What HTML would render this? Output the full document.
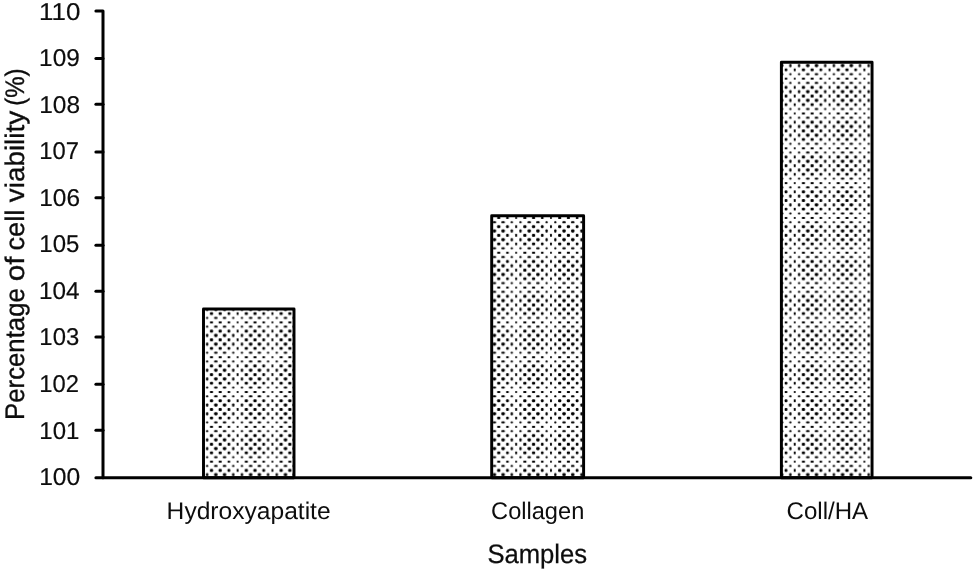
<!DOCTYPE html>
<html lang="en">
<head>
<meta charset="utf-8">
<title>Cell viability chart</title>
<style>
html,body{margin:0;padding:0;background:#fff;}
body{width:975px;height:571px;overflow:hidden;}
svg{display:block;}
text{font-family:"Liberation Sans",Arial,sans-serif;fill:#0d0d0d;text-rendering:geometricPrecision;}
</style>
</head>
<body>
<svg width="975" height="571" viewBox="0 0 975 571">
<defs>
<pattern id="dots" patternUnits="userSpaceOnUse" x="17.804" y="32.904" width="34.820" height="34.820">
<rect width="34.820" height="34.820" fill="#fff"/>
<g fill="#000">
<rect x="0.826" y="0.826" width="2.700" height="2.700" rx="0.945"/>
<rect x="9.931" y="0.826" width="1.900" height="2.700" rx="0.665"/>
<rect x="17.986" y="0.826" width="3.200" height="2.700" rx="0.945"/>
<rect x="26.691" y="0.826" width="3.200" height="2.700" rx="0.945"/>
<rect x="5.429" y="5.529" width="2.200" height="2.000" rx="0.700"/>
<rect x="14.134" y="5.529" width="2.200" height="2.000" rx="0.700"/>
<rect x="22.239" y="5.529" width="3.400" height="2.000" rx="0.700"/>
<rect x="30.944" y="5.529" width="3.400" height="2.000" rx="0.700"/>
<rect x="0.826" y="9.881" width="2.700" height="2.000" rx="0.700"/>
<rect x="9.931" y="9.881" width="1.900" height="2.000" rx="0.665"/>
<rect x="17.986" y="9.881" width="3.200" height="2.000" rx="0.700"/>
<rect x="26.691" y="9.881" width="3.200" height="2.000" rx="0.700"/>
<rect x="5.429" y="14.184" width="2.200" height="2.100" rx="0.735"/>
<rect x="14.134" y="14.184" width="2.200" height="2.100" rx="0.735"/>
<rect x="22.239" y="14.184" width="3.400" height="2.100" rx="0.735"/>
<rect x="30.944" y="14.184" width="3.400" height="2.100" rx="0.735"/>
<rect x="0.826" y="18.086" width="2.700" height="3.000" rx="0.945"/>
<rect x="9.931" y="18.086" width="1.900" height="3.000" rx="0.665"/>
<rect x="17.986" y="18.086" width="3.200" height="3.000" rx="1.050"/>
<rect x="26.691" y="18.086" width="3.200" height="3.000" rx="1.050"/>
<rect x="5.429" y="22.339" width="2.200" height="3.200" rx="0.770"/>
<rect x="14.134" y="22.339" width="2.200" height="3.200" rx="0.770"/>
<rect x="22.239" y="22.339" width="3.400" height="3.200" rx="1.120"/>
<rect x="30.944" y="22.339" width="3.400" height="3.200" rx="1.120"/>
<rect x="0.826" y="26.791" width="2.700" height="3.000" rx="0.945"/>
<rect x="9.931" y="26.791" width="1.900" height="3.000" rx="0.665"/>
<rect x="17.986" y="26.791" width="3.200" height="3.000" rx="1.050"/>
<rect x="26.691" y="26.791" width="3.200" height="3.000" rx="1.050"/>
<rect x="5.429" y="31.044" width="2.200" height="3.200" rx="0.770"/>
<rect x="14.134" y="31.044" width="2.200" height="3.200" rx="0.770"/>
<rect x="22.239" y="31.044" width="3.400" height="3.200" rx="1.120"/>
<rect x="30.944" y="31.044" width="3.400" height="3.200" rx="1.120"/>
</g>
</pattern>
</defs>
<rect width="975" height="571" fill="#fff"/>
<g fill="url(#dots)" stroke="#000" stroke-width="2.95" stroke-linejoin="round">
<rect x="203.50" y="309.00" width="90.50" height="168.75"/>
<rect x="491.70" y="215.70" width="91.90" height="262.05"/>
<rect x="781.40" y="62.30" width="90.65" height="415.45"/>
</g>
<g stroke="#000" stroke-width="3.0" stroke-linecap="round" stroke-linejoin="round" fill="none">
<line x1="95.9" y1="430.20" x2="103.0" y2="430.20"/>
<line x1="95.9" y1="384.20" x2="103.0" y2="384.20"/>
<line x1="95.9" y1="337.00" x2="103.0" y2="337.00"/>
<line x1="95.9" y1="291.20" x2="103.0" y2="291.20"/>
<line x1="95.9" y1="245.20" x2="103.0" y2="245.20"/>
<line x1="95.9" y1="197.80" x2="103.0" y2="197.80"/>
<line x1="95.9" y1="151.90" x2="103.0" y2="151.90"/>
<line x1="95.9" y1="104.20" x2="103.0" y2="104.20"/>
<line x1="95.9" y1="58.40" x2="103.0" y2="58.40"/>
<polyline points="95.9,11.0 103.0,11.0 103.0,477.75"/>
<line x1="95.9" y1="477.75" x2="970.8" y2="477.75"/>
</g>
<g>
<text x="39.17" y="484.7" font-size="24.3" stroke="#0d0d0d" stroke-width="0.2" textLength="41.05" lengthAdjust="spacingAndGlyphs">100</text>
<text x="39.35" y="438.6" font-size="24.3" stroke="#0d0d0d" stroke-width="0.2" textLength="39.99" lengthAdjust="spacingAndGlyphs">101</text>
<text x="39.35" y="391.6" font-size="24.3" stroke="#0d0d0d" stroke-width="0.2" textLength="39.69" lengthAdjust="spacingAndGlyphs">102</text>
<text x="39.36" y="345.4" font-size="24.3" stroke="#0d0d0d" stroke-width="0.2" textLength="39.85" lengthAdjust="spacingAndGlyphs">103</text>
<text x="39.10" y="299.4" font-size="24.3" stroke="#0d0d0d" stroke-width="0.2" textLength="40.52" lengthAdjust="spacingAndGlyphs">104</text>
<text x="39.33" y="252.0" font-size="24.3" stroke="#0d0d0d" stroke-width="0.2" textLength="39.98" lengthAdjust="spacingAndGlyphs">105</text>
<text x="39.23" y="206.2" font-size="24.3" stroke="#0d0d0d" stroke-width="0.2" textLength="40.80" lengthAdjust="spacingAndGlyphs">106</text>
<text x="39.35" y="158.9" font-size="24.3" stroke="#0d0d0d" stroke-width="0.2" textLength="39.69" lengthAdjust="spacingAndGlyphs">107</text>
<text x="39.23" y="112.7" font-size="24.3" stroke="#0d0d0d" stroke-width="0.2" textLength="40.80" lengthAdjust="spacingAndGlyphs">108</text>
<text x="39.11" y="65.5" font-size="24.3" stroke="#0d0d0d" stroke-width="0.2" textLength="40.64" lengthAdjust="spacingAndGlyphs">109</text>
<text x="39.07" y="19.85" font-size="24.3" stroke="#0d0d0d" stroke-width="0.2" textLength="41.28" lengthAdjust="spacingAndGlyphs">110</text>
<text x="166.64" y="519.4" font-size="24.0" textLength="163.99" lengthAdjust="spacingAndGlyphs">Hydroxyapatite</text>
<text x="491.08" y="519.4" font-size="24.0" textLength="93.18" lengthAdjust="spacingAndGlyphs">Collagen</text>
<text x="786.53" y="519.4" font-size="24.0" textLength="81.58" lengthAdjust="spacingAndGlyphs">Coll/HA</text>
<text x="487.40" y="562.7" font-size="26.6" stroke="#0d0d0d" stroke-width="0.25" textLength="99.76" lengthAdjust="spacingAndGlyphs">Samples</text>
<text transform="translate(23.9 419.88) rotate(-90)" font-size="26.8" stroke="#0d0d0d" stroke-width="0.35" textLength="131.64" lengthAdjust="spacingAndGlyphs">Percentage</text>
<text transform="translate(23.9 281.37) rotate(-90)" font-size="26.8" stroke="#0d0d0d" stroke-width="0.35" textLength="24.92" lengthAdjust="spacingAndGlyphs">of</text>
<text transform="translate(23.9 250.49) rotate(-90)" font-size="26.8" stroke="#0d0d0d" stroke-width="0.35" textLength="40.74" lengthAdjust="spacingAndGlyphs">cell</text>
<text transform="translate(23.9 202.18) rotate(-90)" font-size="26.8" stroke="#0d0d0d" stroke-width="0.35" textLength="91.37" lengthAdjust="spacingAndGlyphs">viability</text>
<text transform="translate(23.9 105.78) rotate(-90)" font-size="26.8" stroke="#0d0d0d" stroke-width="0.35" textLength="37.41" lengthAdjust="spacingAndGlyphs">(%)</text>
</g>
</svg>
</body>
</html>
